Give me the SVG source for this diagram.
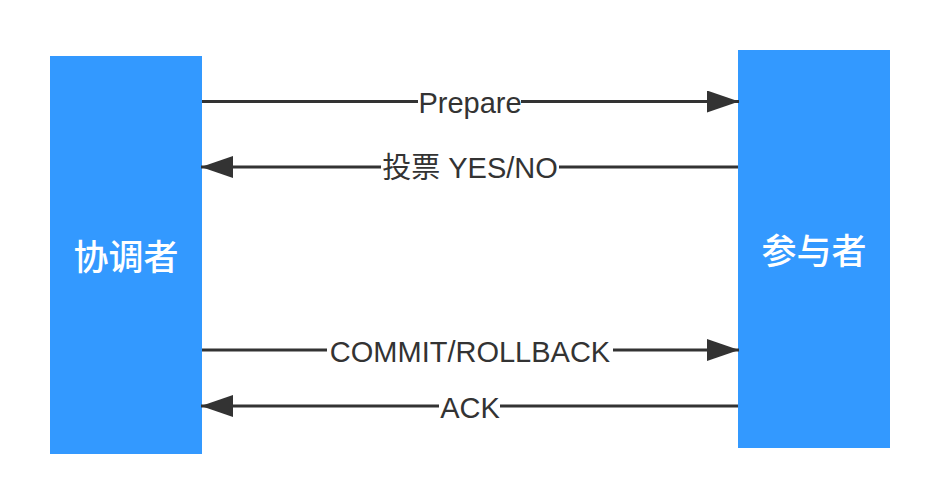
<svg xmlns="http://www.w3.org/2000/svg" width="940" height="504" viewBox="0 0 940 504">
<style>
.box{fill:#3399ff}
.nl{font-family:"Noto Sans CJK SC","Noto Sans",sans-serif;font-size:35px;font-weight:500;fill:#ffffff;text-anchor:middle}
.ln{stroke:#333333;stroke-width:3;fill:none}
.lb{font-family:"Liberation Sans","Noto Sans CJK SC",sans-serif;font-size:29px;fill:#333333;text-anchor:middle}
.bg{fill:#ffffff}
</style>
<defs>
<marker id="ah" markerUnits="userSpaceOnUse" markerWidth="32" markerHeight="22" viewBox="0 0 32 22" refX="32" refY="11" orient="auto">
<path d="M0,0 L32,11 L0,22 Z" fill="#333333"/>
</marker>
</defs>
<rect width="940" height="504" fill="#ffffff"/>
<g id="coordinator">
<rect class="box" x="50" y="56" width="152" height="398"/>
<text class="nl" x="126" y="270">协调者</text>
</g>
<g id="participant">
<rect class="box" x="738" y="50" width="152" height="398"/>
<text class="nl" x="814" y="264">参与者</text>
</g>
<g id="connectors">
<line class="ln" x1="202" y1="101.5" x2="739" y2="101.5" marker-end="url(#ah)"/>
<rect class="bg" x="418" y="88" width="103" height="28"/>
<text class="lb" x="470" y="113">Prepare</text>
<line class="ln" x1="738" y1="167" x2="201" y2="167" marker-end="url(#ah)"/>
<rect class="bg" x="381" y="153" width="178" height="28"/>
<text class="lb" x="470" y="178">投票 YES/NO</text>
<line class="ln" x1="202" y1="350" x2="739" y2="350" marker-end="url(#ah)"/>
<rect class="bg" x="327" y="336" width="286" height="28"/>
<text class="lb" x="470" y="362">COMMIT/ROLLBACK</text>
<line class="ln" x1="738" y1="406" x2="201" y2="406" marker-end="url(#ah)"/>
<rect class="bg" x="439" y="392" width="61" height="28"/>
<text class="lb" x="470" y="418">ACK</text>
</g>
</svg>
